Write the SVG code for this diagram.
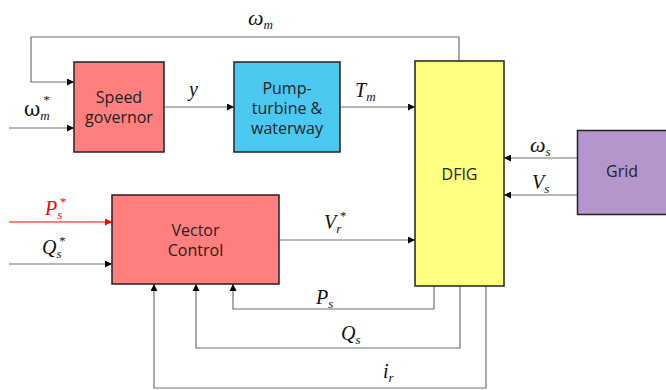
<svg xmlns="http://www.w3.org/2000/svg" width="666" height="390" viewBox="0 0 666 390">
<defs>
<marker id="ah" viewBox="0 0 10 10" refX="10" refY="5" markerWidth="7" markerHeight="7" markerUnits="userSpaceOnUse" orient="auto"><path d="M0,0 L10,5 L0,10 z" fill="#000"/></marker>
<marker id="ahr" viewBox="0 0 10 10" refX="10" refY="5" markerWidth="7" markerHeight="7" markerUnits="userSpaceOnUse" orient="auto"><path d="M0,0 L10,5 L0,10 z" fill="#ff0000"/></marker>
<style>
.box{stroke:#222;stroke-width:1.5}
.bt{font-family:"Open Sans","Noto Sans",sans-serif;font-size:16px;fill:#222;text-anchor:middle}
.c{fill:none;stroke:#707070;stroke-width:1.2}
.ca{fill:none;stroke:#707070;stroke-width:1.2;marker-end:url(#ah)}
.m{font-family:"Liberation Serif",serif;font-style:italic;font-size:20px;fill:#111}
.s{font-size:13px}
.w{font-size:22px}
.g{font-family:"DejaVu Serif","Liberation Serif",serif;font-style:normal;font-size:20px}
</style>
</defs>
<g id="connectors">
<path class="ca" d="M459,61 V37 H31 V82 H74"/>
<path class="ca" d="M9,128 H74"/>
<path class="ca" d="M164,107 H234"/>
<path class="ca" d="M340,107 H415"/>
<path class="ca" d="M578,158 H504"/>
<path class="ca" d="M578,195 H504"/>
<path d="M9,222 H112" fill="none" stroke="#ff0000" stroke-width="1.2" marker-end="url(#ahr)"/>
<path class="ca" d="M9,264 H112"/>
<path class="ca" d="M279,240 H415"/>
<path class="ca" d="M434,286 V309 H233 V284"/>
<path class="ca" d="M460,286 V348 H196 V284"/>
<path class="ca" d="M486,286 V388 H154 V284"/>
</g>
<g id="speed-governor">
<rect class="box" x="74" y="62" width="90" height="90" fill="#ff7f7f"/>
<text class="bt" x="119" y="103">Speed</text>
<text class="bt" x="119" y="123">governor</text>
</g>
<g id="pump-turbine">
<rect class="box" x="234" y="62" width="106" height="90" fill="#4bc8f0"/>
<text class="bt" x="287" y="94">Pump-</text>
<text class="bt" x="287" y="114">turbine &amp;</text>
<text class="bt" x="287" y="134">waterway</text>
</g>
<g id="dfig">
<rect class="box" x="415" y="61" width="89" height="225" fill="#ffff80"/>
<text class="bt" x="459.5" y="180">DFIG</text>
</g>
<g id="grid">
<rect class="box" x="577.5" y="130.5" width="100" height="84" fill="#b496cc"/>
<text class="bt" x="622" y="177">Grid</text>
</g>
<g id="vector-control">
<rect class="box" x="112" y="195" width="167" height="89" fill="#ff7f7f"/>
<text class="bt" x="195.5" y="236">Vector</text>
<text class="bt" x="195.5" y="256">Control</text>
</g>
<g id="labels">
<text class="m" x="248" y="25"><tspan class="w">ω</tspan><tspan class="s" dy="4">m</tspan></text>
<text class="m" x="24" y="116"><tspan class="g">ω</tspan><tspan class="s" dx="0" dy="4">m</tspan><tspan class="s" dx="-7" dy="-16">*</tspan></text>
<text class="m" x="189" y="96">y</text>
<text class="m" x="355" y="97">T<tspan class="s" dy="4">m</tspan></text>
<text class="m" x="530" y="152"><tspan class="w">ω</tspan><tspan class="s" dy="4">s</tspan></text>
<text class="m" x="532" y="189">V<tspan class="s" dy="4">s</tspan></text>
<text class="m" x="45" y="215" style="fill:#ff0000">P<tspan class="s" dy="4">s</tspan><tspan class="s" dx="-3" dy="-13">*</tspan></text>
<text class="m" x="42" y="254">Q<tspan class="s" dy="4">s</tspan><tspan class="s" dx="-3" dy="-13">*</tspan></text>
<text class="m" x="324" y="229">V<tspan class="s" dy="4">r</tspan><tspan class="s" dx="-2" dy="-13">*</tspan></text>
<text class="m" x="316" y="304">P<tspan class="s" dy="4">s</tspan></text>
<text class="m" x="341" y="340">Q<tspan class="s" dy="4">s</tspan></text>
<text class="m" x="383" y="378">i<tspan class="s" dy="4">r</tspan></text>
</g>
</svg>
